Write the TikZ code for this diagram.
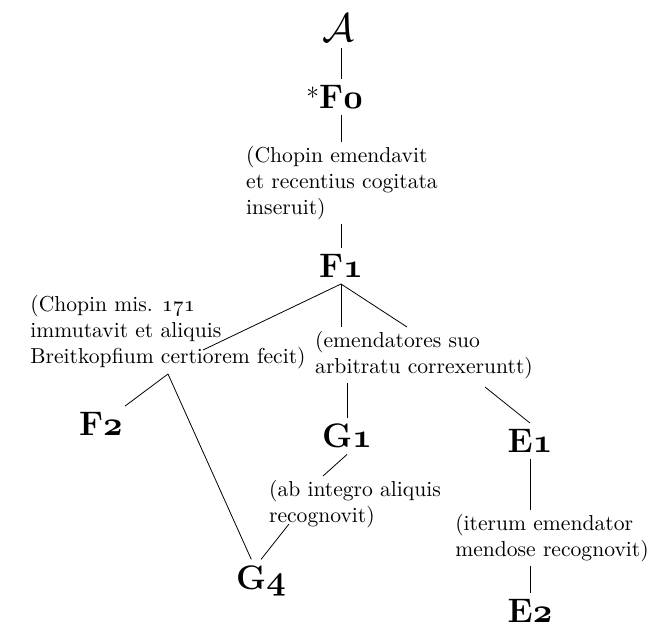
\documentclass[tikz,border=0pt]{standalone}
\usepackage{fix-cm}
\usepackage{amsmath, amssymb}
\newcommand{\osf}[1]{{\usefont{OML}{cmm}{b}{it}#1}}
\tikzstyle{sig}=[font=\fontsize{17}{17}\selectfont\bfseries, inner sep=3pt]
\tikzstyle{note}=[font=\fontsize{10.8}{12.8}\selectfont, align=left, inner sep=2pt]
\begin{document}
\begin{tikzpicture}[x=.5pt,y=-.5pt]
\useasboundingbox (0,0) rectangle (652,628);
\node at (338,28) [sig, font=\fontsize{20}{20}\selectfont](A){$\mathcal{A}$};
\node at (341,97) [sig](F0){\llap{\mdseries\fontsize{13}{13}\selectfont\raisebox{1pt}{*}}F\osf{0}};
\node at (342,183) [note](n1){(Chopin emendavit\\et recentius cogitata\\inseruit)};
\node at (341,266) [sig](F1){F\osf{1}};
\node at (168,332) [note](n2){(Chopin mis. \oldstylenums{171}\\immutavit et aliquis\\Breitkopfium certiorem fecit)};
\node at (424,355) [note](n3){(emendatores suo\\arbitratu correxeruntt)};
\node at (101,424) [sig](F2){F\osf{2}};
\node at (347,436) [sig](G1){G\osf{1}};
\node at (530,441) [sig](E1){E\osf{1}};
\node at (355,504) [note](n4){(ab integro aliquis\\recognovit)};
\node at (552,538) [note](n5){(iterum emendator\\mendose recognovit)};
\node at (261,581) [sig](G4){G\osf{4}};
\node at (530,611) [sig](E2){E\osf{2}};
\coordinate (n2top) at (203,350);
\coordinate (n2foot) at (168,374);
\coordinate (n3top) at (407,327);
\coordinate (n3foot) at (485,387);
\coordinate (n4top) at (323,476);
\coordinate (n4foot) at (289,524);
\draw (F0 |- A.south)--(F0.north);
\draw (F0.south)--(F0 |- n1.north);
\draw (F1 |- n1.south)--(F1.north);
\draw (F1.south)--(n2top);
\draw (F1.south)--(F1.south |- n3.north);
\draw (F1.south)--(n3top);
\draw (n2foot)--(F2);
\draw (n2foot)--(G4);
\draw (G1 |- n3.south)--(G1.north);
\draw (n3foot)--(E1.north);
\draw (G1.south)--(n4top);
\draw (n4foot)--(G4.north);
\draw (E1.south)--(E1.south |- n5.north);
\draw (E2.north |- n5.south)--(E2.north);
\end{tikzpicture}
\end{document}
